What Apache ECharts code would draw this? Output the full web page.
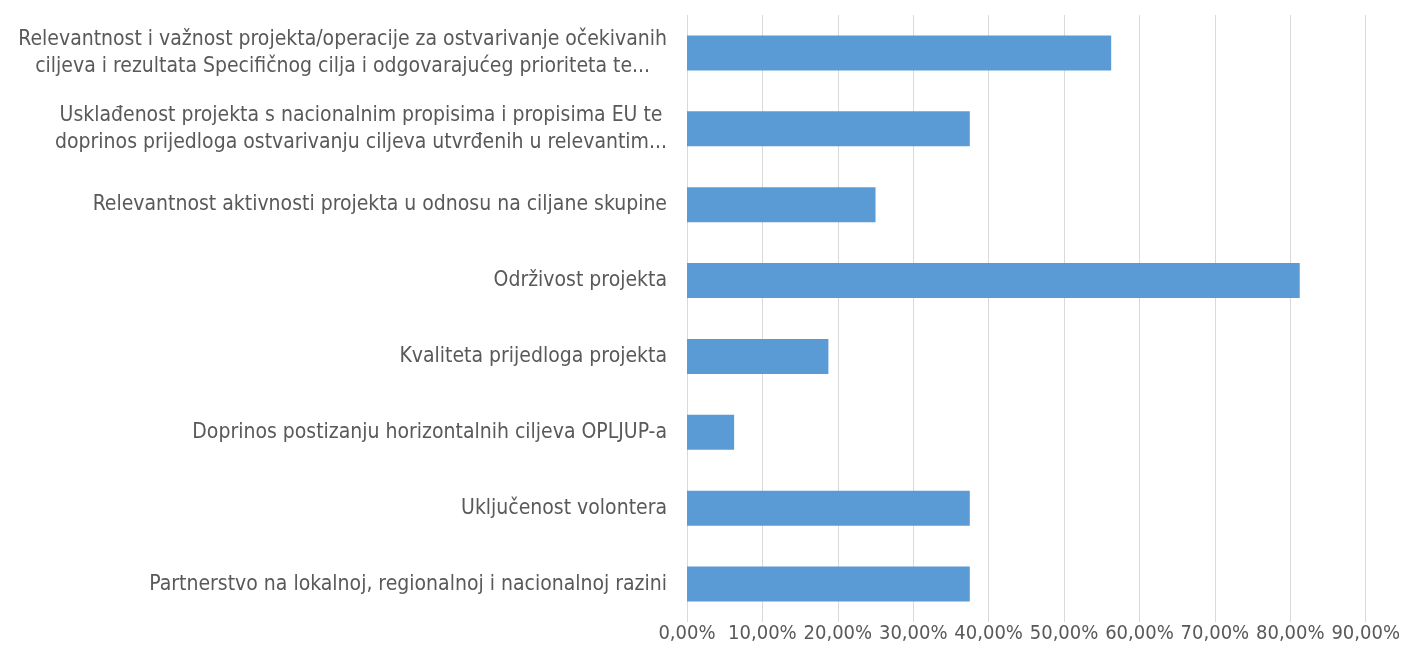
<!DOCTYPE html>
<html>
<head>
<meta charset="utf-8">
<script src="https://cdn.jsdelivr.net/npm/echarts@6/dist/echarts.min.js"></script>
<style>
  html, body { margin: 0; padding: 0; background: #fff; }
  #chart { width: 1403px; height: 650px; }
</style>
</head>
<body>
<div id="chart"></div>
<script>
// categories, top to bottom
const categories = [
  'Relevantnost i važnost projekta/operacije za ostvarivanje očekivanih\nciljeva i rezultata Specifičnog cilja i odgovarajućeg prioriteta te...',
  'Usklađenost projekta s nacionalnim propisima i propisima EU te\ndoprinos prijedloga ostvarivanju ciljeva utvrđenih u relevantim...',
  'Relevantnost aktivnosti projekta u odnosu na ciljane skupine',
  'Održivost projekta',
  'Kvaliteta prijedloga projekta',
  'Doprinos postizanju horizontalnih ciljeva OPLJUP-a',
  'Uključenost volontera',
  'Partnerstvo na lokalnoj, regionalnoj i nacionalnoj razini'
];
// percentages
const values = [56.25, 37.5, 25, 81.25, 18.75, 6.25, 37.5, 37.5];
const tickMax = 90;
const tickStep = 10;

const chart = echarts.init(document.getElementById('chart'));
const font = '"Liberation Sans Narrow", "DejaVu Sans Condensed", sans-serif';

chart.setOption({
  animation: false,
  grid: { left: 687, right: 34, top: 15, bottom: 28, containLabel: false },
  xAxis: {
    type: 'value',
    min: 0,
    max: tickMax,
    interval: tickStep,
    axisLine: { show: false },
    axisTick: { show: false },
    splitLine: { show: true, lineStyle: { color: '#d9d9d9', width: 1 } },
    axisLabel: {
      margin: 2,
      color: '#595959',
      fontFamily: font,
      fontSize: 20,
      formatter: v => v.toFixed(2).replace('.', ',') + '%'
    }
  },
  yAxis: {
    type: 'category',
    inverse: true,
    data: categories,
    axisLine: { show: false },
    axisTick: { show: false },
    axisLabel: {
      margin: 20,
      color: '#595959',
      fontFamily: font,
      fontSize: 21,
      lineHeight: 27,
      formatter: v => v.split('\n').map(s => '{c|' + s + '}').join('\n'),
      rich: {
        c: { align: 'center', color: '#595959', fontFamily: font, fontSize: 21, lineHeight: 27 }
      }
    }
  },
  series: [{
    type: 'bar',
    data: values,
    barWidth: 35,
    itemStyle: { color: '#5b9bd5' }
  }]
});
</script>
</body>
</html>
